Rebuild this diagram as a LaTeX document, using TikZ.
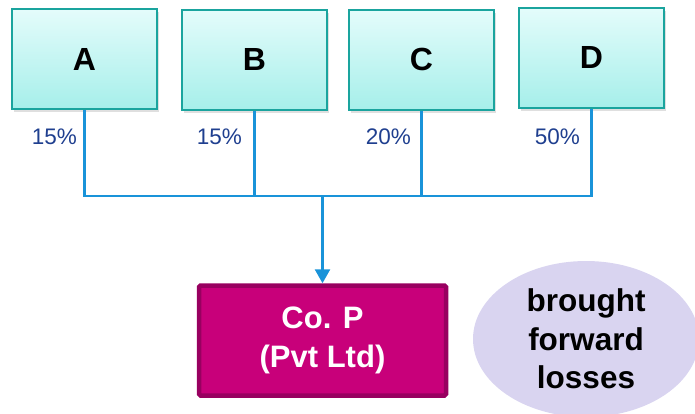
\documentclass[tikz,border=0pt]{standalone}
\usepackage{fontspec}
\setmainfont{Liberation Sans}
\usetikzlibrary{arrows.meta,shadows,shapes.geometric}
\definecolor{boxborder}{HTML}{1AA49E}
\definecolor{boxtop}{HTML}{E4FCFB}
\definecolor{boxbot}{HTML}{A6EFEA}
\definecolor{wire}{HTML}{1993D9}
\definecolor{pct}{HTML}{1F3F8F}
\definecolor{pfill}{HTML}{C8007A}
\definecolor{pborder}{HTML}{980060}
\definecolor{ellfill}{HTML}{D9D4F0}
\tikzset{
  owner/.style={draw=boxborder, line width=2pt, top color=boxtop, bottom color=boxbot,
    minimum width=145pt, minimum height=100pt, inner sep=0pt,
    drop shadow={shadow xshift=2pt, shadow yshift=-3pt, opacity=0.25},
    font=\fontsize{32}{32}\selectfont\bfseries},
  pctlabel/.style={anchor=east, text=pct, inner sep=0pt, font=\fontsize{22.5}{22.5}\selectfont},
  wireline/.style={draw=wire, line width=2.5pt},
  company/.style={draw=pborder, line width=4.5pt, fill=pfill, rounded corners=1.5pt,
    minimum width=247pt, minimum height=110pt, text=white, align=center,
    font=\fontsize{31}{39}\selectfont\bfseries},
  losses/.style={ellipse, fill=ellfill, align=center, inner sep=0pt,
    minimum width=226pt, minimum height=156pt,
    font=\fontsize{31.5}{38.5}\selectfont\bfseries}
}
\begin{document}
\begin{tikzpicture}[x=1pt,y=-1pt]
\useasboundingbox (0,0) rectangle (695,413);
\node[owner] (A) at (84.5,59) {A};
\node[owner] (B) at (254.5,59.5) {B};
\node[owner] (C) at (421.5,59.5) {C};
\node[owner] (D) at (591.5,57.5) {D};
\node[pctlabel] (pa) at (77,137) {15\%};
\node[pctlabel] (pb) at (242,137) {15\%};
\node[pctlabel] (pc) at (411,137) {20\%};
\node[pctlabel] (pd) at (580,137) {50\%};
\coordinate (bus) at (322.5,196);
\node[company] (P) at (322.5,340.5) {Co. P\\(Pvt Ltd)};
\node[losses] (L) at (586,339) {brought\\forward\\losses};
\draw[wireline] (A.south) -- (A.south |- bus) -- (D.south |- bus) -- (D.south);
\draw[wireline] (B.south) -- (B.south |- bus);
\draw[wireline] (C.south) -- (C.south |- bus);
\draw[wireline, -{Triangle[width=15pt,length=14pt]}] (bus) -- (P.north);
\end{tikzpicture}
\end{document}
